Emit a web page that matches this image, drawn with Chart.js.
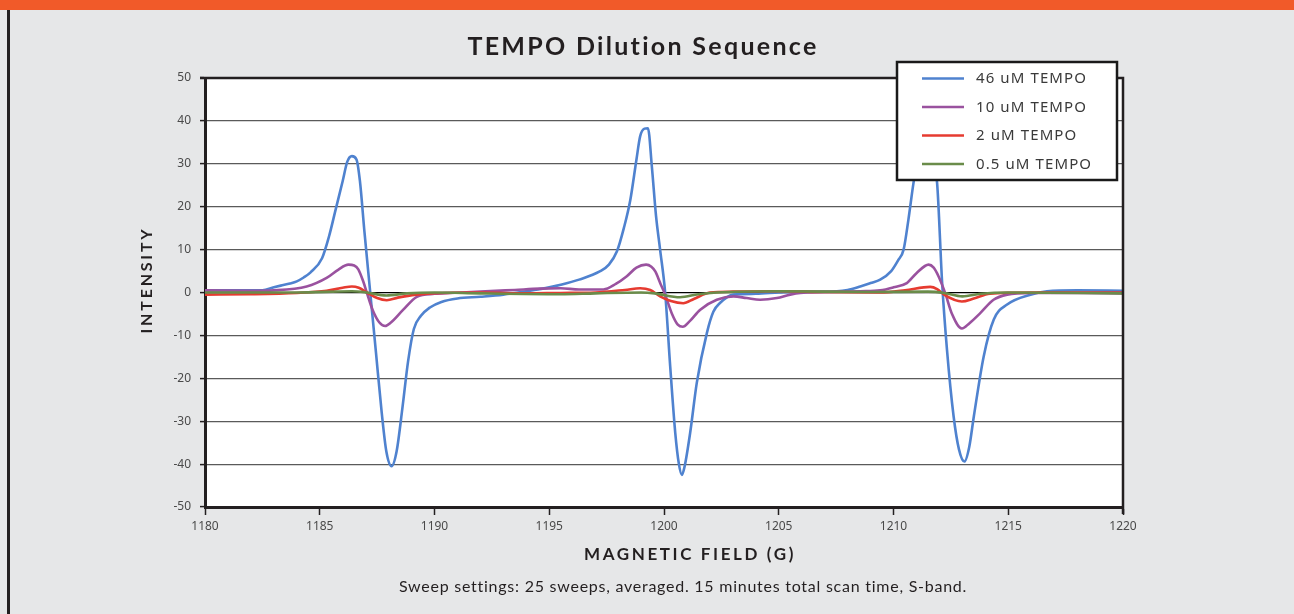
<!DOCTYPE html>
<html>
<head>
<meta charset="utf-8">
<script src="https://cdn.jsdelivr.net/npm/chart.js@4.4.1/dist/chart.umd.min.js"></script>
<style>
	html, body { margin: 0; padding: 0; }
	body { width: 1294px; height: 614px; background: #e6e7e8; position: relative; overflow: hidden; }
	#topbar { position: absolute; left: 0; top: 0; width: 1294px; height: 10px; background: #f15a29; }
	#leftrule { position: absolute; left: 7px; top: 10px; width: 3px; height: 604px; background: #231f20; }
	#wrap { position: absolute; left: 0; top: 0; width: 1294px; height: 614px; }
</style>
</head>
<body>
<div id="topbar"></div>
<div id="leftrule"></div>
<div id="wrap"><canvas id="tempo_canvas" width="1294" height="614"></canvas></div>
<script>
// field values (G) and intensities
var field46 = [1180, 1182, 1182.5, 1183, 1183.3, 1183.7, 1184, 1184.3, 1184.6, 1185.1, 1185.4, 1185.7, 1186, 1186.2, 1186.4, 1186.6, 1186.75, 1186.95, 1187.2, 1187.45, 1187.7, 1187.9, 1188.13, 1188.35, 1188.6, 1188.85, 1189.1, 1189.4, 1189.8, 1190.3, 1191, 1192, 1193, 1194, 1195, 1195.5, 1196.3, 1197.2, 1197.6, 1197.95, 1198.25, 1198.53, 1198.8, 1198.96, 1199.15, 1199.3, 1199.47, 1199.65, 1199.83, 1200.05, 1200.27, 1200.49, 1200.65, 1200.78, 1200.9, 1201.14, 1201.43, 1201.87, 1202.15, 1202.45, 1203.02, 1204, 1205, 1206, 1207, 1208, 1208.55, 1209, 1209.42, 1209.9, 1210.2, 1210.44, 1210.65, 1210.87, 1211.05, 1211.25, 1211.4, 1211.55, 1211.9, 1212.12, 1212.33, 1212.62, 1212.85, 1213.09, 1213.3, 1213.5, 1213.93, 1214.37, 1214.95, 1215.97, 1216.69, 1218, 1220];
var tempo46 = [0.5, 0.5, 0.5, 1.2, 1.6, 2.1, 2.6, 3.5, 4.7, 8.0, 13, 19.5, 26, 30.5, 31.8, 31, 26, 14, 0, -14, -28, -37, -40.5, -37, -27, -16, -8.5, -5.5, -3.5, -2.2, -1.4, -1, -0.5, 0.3, 1.2, 1.8, 3, 4.9, 6.5, 9.6, 15, 21.5, 31, 36.4, 38.2, 38.3, 29.4, 18, 10, 0, -17.2, -32.7, -40, -42.5, -40.5, -32.7, -21, -9.4, -4.5, -2.4, -0.5, -0.3, 0, 0.2, 0.2, 0.6, 1.4, 2.2, 3, 5, 7.5, 10, 17, 25.5, 31, 34, 35, 34, 25.5, 2.2, -13.3, -28.9, -36.5, -39.4, -36, -28.9, -14.9, -6.3, -2.8, -0.5, 0.3, 0.5, 0.4];

var field10 = [1180, 1182, 1183, 1184.43, 1185.3, 1185.8, 1186.25, 1186.5, 1186.68, 1186.9, 1187.05, 1187.3, 1187.6, 1187.85, 1188.1, 1188.64, 1189.23, 1190, 1190.68, 1192, 1193.5, 1194.6, 1195.5, 1196.3, 1197.36, 1197.9, 1198.38, 1198.8, 1199.22, 1199.45, 1199.62, 1199.85, 1200.05, 1200.35, 1200.6, 1200.82, 1201.1, 1201.58, 1202.3, 1203.03, 1203.6, 1204.19, 1204.92, 1205.5, 1205.94, 1207, 1208.55, 1209.42, 1210, 1210.58, 1211, 1211.53, 1211.75, 1211.96, 1212.25, 1212.55, 1212.98, 1213.3, 1213.78, 1214.36, 1214.95, 1216, 1218, 1220];
var tempo10 = [0.5, 0.4, 0.5, 1.4, 3.4, 5.3, 6.5, 6.3, 5.4, 2.5, 0, -4, -7, -7.8, -7, -4, -1, -0.3, -0.1, 0.2, 0.6, 0.9, 1, 0.7, 0.7, 2, 3.8, 5.8, 6.5, 6.0, 4.9, 2, -0.5, -5, -7.5, -8, -6.8, -4, -1.7, -0.9, -1.3, -1.7, -1.3, -0.5, -0.1, 0.1, 0.3, 0.5, 1.2, 2.2, 4.5, 6.5, 5.8, 3.8, -0.1, -5, -8.4, -7.2, -4.8, -1.7, -0.5, -0.1, -0.1, -0.2];

var field2 = [1180, 1182, 1184, 1185.3, 1186, 1186.4, 1186.7, 1187.05, 1187.5, 1187.92, 1188.4, 1189.2, 1190.5, 1192, 1194, 1195.5, 1197, 1198.3, 1198.96, 1199.4, 1199.83, 1200.3, 1200.84, 1201.3, 1202, 1203, 1205, 1207, 1209.4, 1210.5, 1211.6, 1211.9, 1212.2, 1212.98, 1213.5, 1214.2, 1216, 1220];
var tempo2 = [-0.5, -0.4, -0.1, 0.4, 1.1, 1.4, 1.1, 0, -1.3, -1.8, -1.2, -0.5, -0.1, 0, -0.2, -0.1, 0, 0.6, 1.0, 0.6, -0.9, -2.0, -2.5, -1.5, 0, 0.2, 0.3, 0.1, 0, 0.5, 1.3, 0.8, -0.5, -2.1, -1.4, -0.3, 0, 0];

var field05 = [1180, 1184, 1186.4, 1187.05, 1187.9, 1188.8, 1190, 1192, 1195.5, 1197, 1199, 1199.6, 1200.7, 1201.5, 1202.3, 1205, 1209, 1211.5, 1212.2, 1213, 1213.8, 1215, 1220];
var tempo05 = [0, 0, 0.3, 0, -0.7, -0.2, 0, -0.2, -0.4, -0.2, 0, -0.2, -1.1, -0.4, 0, 0.3, 0.1, 0.2, -0.1, -0.9, -0.3, 0, -0.2];

var seriesNames = ['46 uM TEMPO', '10 uM TEMPO', '2 uM TEMPO', '0.5 uM TEMPO'];
var seriesColors = ['#4f82cf', '#9a529f', '#e63b30', '#6a8c4a'];
var yTicks = [-50, -40, -30, -20, -10, 0, 10, 20, 30, 40, 50];
var xTicks = [1180, 1185, 1190, 1195, 1200, 1205, 1210, 1215, 1220];

function toPoints(xs, ys) {
	var pts = [];
	for (var i = 0; i < xs.length; i++) {
		pts.push({x: xs[i], y: ys[i]});
	}
	return pts;
}

function makeSet(idx, xs, ys) {
	return {
		label: seriesNames[idx],
		data: toPoints(xs, ys),
		borderColor: seriesColors[idx],
		borderWidth: 2.6,
		pointRadius: 0,
		fill: false,
		cubicInterpolationMode: 'monotone',
		// later series sit on top like in the original
		order: 4 - idx
	};
}

var TEXT = '#231f20';

// white plot area, frame, legend box and the free text around the chart
var decorPlugin = {
	id: 'decor',
	beforeDraw: function(chart) {
		var c = chart.ctx, a = chart.chartArea;
		c.save();
		c.fillStyle = '#ffffff';
		c.fillRect(a.left, a.top, a.right - a.left, a.bottom - a.top);
		c.restore();
	},
	afterDraw: function(chart) {
		var c = chart.ctx, a = chart.chartArea;
		c.save();
		// top and right frame
		c.strokeStyle = TEXT;
		c.lineWidth = 2.5;
		c.beginPath();
		c.moveTo(a.left - 5, a.top);
		c.lineTo(a.right, a.top);
		c.lineTo(a.right, a.bottom + 7);
		c.stroke();

		// legend
		var lx = 897, ly = 62, lw = 220, lh = 118;
		c.fillStyle = '#ffffff';
		c.fillRect(lx, ly, lw, lh);
		c.lineWidth = 2.5;
		c.strokeStyle = '#1a1a1a';
		c.strokeRect(lx, ly, lw, lh);
		c.font = '15px "Noto Sans"';
		c.letterSpacing = '1.1px';
		c.textBaseline = 'middle';
		c.textAlign = 'left';
		for (var i = 0; i < seriesNames.length; i++) {
			var ry = 78.5 + i * 28.5;
			c.strokeStyle = seriesColors[i];
			c.lineWidth = 2.6;
			c.beginPath();
			c.moveTo(922, ry);
			c.lineTo(964, ry);
			c.stroke();
			c.fillStyle = '#3a3a3a';
			c.fillText(seriesNames[i], 976, ry + 0.5);
		}

		// title
		c.fillStyle = TEXT;
		c.textAlign = 'center';
		c.font = 'bold 25px Lato';
		c.letterSpacing = '2.3px';
		c.fillText('TEMPO Dilution Sequence', 643, 47);

		// x axis title
		c.font = 'bold 17px Lato';
		c.letterSpacing = '2.6px';
		c.fillText('MAGNETIC FIELD (G)', 690, 555);

		// caption
		c.font = '16px Lato';
		c.letterSpacing = '0.75px';
		c.fillText('Sweep settings: 25 sweeps, averaged. 15 minutes total scan time, S-band.', 683, 587);

		// y axis title
		c.translate(147, 280);
		c.rotate(-Math.PI / 2);
		c.font = 'bold 16px Lato';
		c.letterSpacing = '2.8px';
		c.fillText('INTENSITY', 0, 0);
		c.restore();
	}
};

var ctx = document.getElementById('tempo_canvas').getContext('2d');

var tempoChart = new Chart(ctx, {
	type: 'line',
	data: {
		datasets: [
			makeSet(0, field46, tempo46),
			makeSet(1, field10, tempo10),
			makeSet(2, field2, tempo2),
			makeSet(3, field05, tempo05)
		]
	},
	options: {
		responsive: false,
		animation: false,
		layout: { padding: { top: 78, right: 171, bottom: 0, left: 0 } },
		plugins: {
			legend: { display: false },
			title: { display: false },
			tooltip: { enabled: false }
		},
		scales: {
			x: {
				type: 'linear',
				min: 1180,
				max: 1220,
				afterFit: function(scale) { scale.height = 107; },
				afterBuildTicks: function(scale) {
					scale.ticks = xTicks.map(function(v) { return {value: v}; });
				},
				border: { display: true, color: TEXT, width: 3 },
				grid: { drawOnChartArea: false, drawTicks: true, tickLength: 8, tickColor: TEXT, tickWidth: 1.5 },
				ticks: {
					padding: 4,
					color: '#4a4a4a',
					font: { family: '"Noto Sans"', size: 12 },
					maxRotation: 0,
					callback: function(v) { return String(v); }
				}
			},
			y: {
				min: -50,
				max: 50,
				afterFit: function(scale) { scale.width = 205; },
				afterBuildTicks: function(scale) {
					scale.ticks = yTicks.map(function(v) { return {value: v}; });
				},
				border: { display: true, color: TEXT, width: 3 },
				grid: {
					color: function(c) { return c.tick && c.tick.value === 0 ? '#000000' : '#5a5a5a'; },
					lineWidth: 1.2,
					tickLength: 5,
					tickColor: TEXT,
					tickWidth: 1.5
				},
				ticks: {
					padding: 9,
					color: '#4a4a4a',
					font: { family: '"Noto Sans"', size: 12 },
					callback: function(v) { return String(v); }
				}
			}
		}
	},
	plugins: [decorPlugin]
});
</script>
</body>
</html>
